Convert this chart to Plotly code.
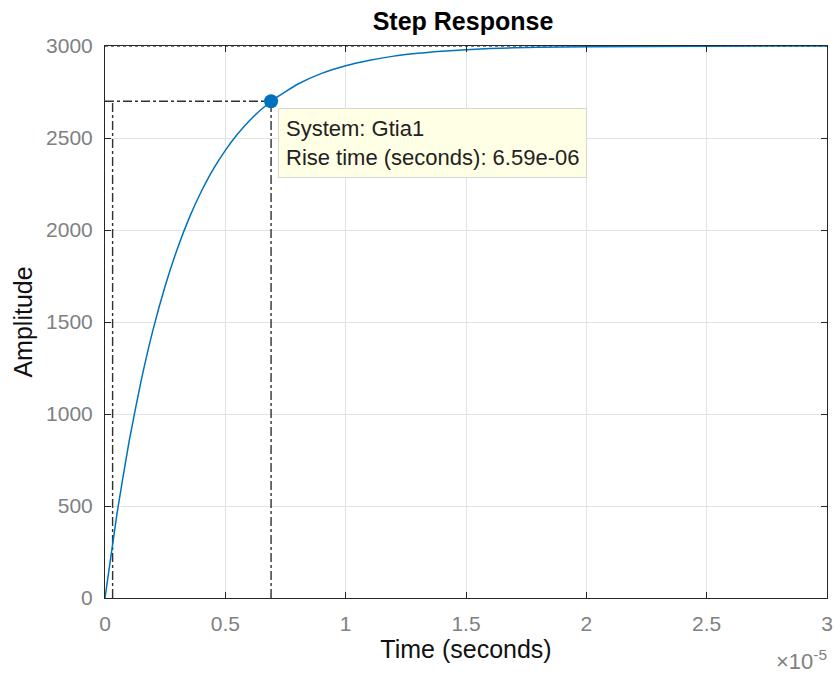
import plotly.graph_objects as go

# Time in units of 1e-5 seconds
time_e5 = [0, 0.05, 0.1, 0.15, 0.2, 0.25, 0.3, 0.35, 0.4, 0.45, 0.5, 0.55, 0.6, 0.65,
           0.7, 0.8, 0.9, 1.0, 1.1, 1.2, 1.3, 1.4, 1.6, 1.8, 2.0, 2.5, 3.0]
amplitude = [0, 460, 850, 1180, 1460, 1696, 1896, 2066, 2209, 2331, 2433, 2520, 2594, 2656,
             2709, 2792, 2851, 2893, 2923, 2945, 2960, 2972, 2986, 2993, 2996, 2999, 3000]

final_value = 3000
rise_low_t = 0.0316
rise_high_t = 0.69
rise_high_y = 2700
system_name = "Gtia1"
rise_time_text = "6.59e-06"

x_ticks = [0, 0.5, 1, 1.5, 2, 2.5, 3]
x_ticklabels = ["0", "0.5", "1", "1.5", "2", "2.5", "3"]
y_ticks = [0, 500, 1000, 1500, 2000, 2500, 3000]

FONT = "Liberation Sans, Arial, sans-serif"
BLUE = "#0072BD"
fig = go.Figure()

# steady-state dotted line
fig.add_trace(go.Scatter(x=[0, 3], y=[final_value, final_value], mode="lines",
                         line=dict(color="black", width=1, dash="dot"), hoverinfo="skip"))
# rise time lines
dd = dict(color="#303030", width=1.4, dash="dashdot")
fig.add_trace(go.Scatter(x=[0, rise_high_t], y=[rise_high_y, rise_high_y], mode="lines",
                         line=dd, hoverinfo="skip"))
fig.add_trace(go.Scatter(x=[rise_high_t, rise_high_t], y=[0, rise_high_y], mode="lines",
                         line=dd, hoverinfo="skip"))
fig.add_trace(go.Scatter(x=[rise_low_t, rise_low_t], y=[0, rise_high_y], mode="lines",
                         line=dd, hoverinfo="skip"))

fig.add_trace(go.Scatter(x=time_e5, y=amplitude, mode="lines",
                         line=dict(color=BLUE, width=1.5, shape="spline", smoothing=0.5),
                         name=system_name))
fig.add_trace(go.Scatter(x=[rise_high_t], y=[rise_high_y], mode="markers",
                         marker=dict(color=BLUE, size=14), hoverinfo="skip"))

fig.add_annotation(x=0.72, y=2663, xref="x", yref="y", xanchor="left", yanchor="top",
                   text=f"System: {system_name}<br>Rise time (seconds): {rise_time_text}",
                   showarrow=False, align="left", bgcolor="#FFFFE5", bordercolor="#D8D8D0",
                   borderwidth=1, borderpad=7, font=dict(family=FONT, size=22, color="#222222"))

fig.add_annotation(x=1, y=0, xref="paper", yref="paper", xanchor="right", yanchor="middle",
                   xshift=2, yshift=-62, text="×10<sup>-5</sup>", showarrow=False,
                   font=dict(family=FONT, size=22, color="#808080"))

axis_common = dict(showline=True, linecolor="#262626", linewidth=1, mirror="ticks",
                   ticks="inside", ticklen=6, tickcolor="#262626", showgrid=True,
                   gridcolor="#E3E3E3", gridwidth=1, zeroline=False, automargin=False,
                   ticklabelstandoff=7, ticklabeloverflow="allow",
                   tickfont=dict(family=FONT, size=21, color="#808080"))

fig.update_xaxes(range=[0, 3], tickvals=x_ticks, ticktext=x_ticklabels,
                 title=dict(text="Time (seconds)", font=dict(family=FONT, size=25, color="#111111"), standoff=5),
                 **axis_common)
fig.update_yaxes(range=[0, 3000], tickvals=y_ticks,
                 title=dict(text="Amplitude", font=dict(family=FONT, size=25, color="#111111"), standoff=6),
                 **axis_common)

fig.update_layout(
    width=835, height=677, showlegend=False,
    margin=dict(l=105, r=8, t=46, b=79),
    paper_bgcolor="white", plot_bgcolor="white",
    title=dict(text="<b>Step Response</b>", x=463 / 835, xanchor="center", y=1 - 21 / 677, yanchor="middle",
               font=dict(family=FONT, size=25, color="black"), automargin=False),
)

fig.write_html("out.html", config={"displayModeBar": False},
               post_script="document.body.style.margin='0';document.body.style.overflow='hidden';")
